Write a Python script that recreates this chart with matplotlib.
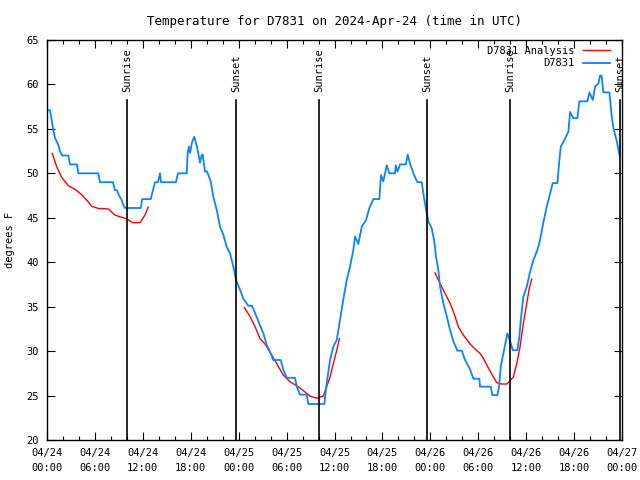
import matplotlib
matplotlib.use('Agg')
import matplotlib.pyplot as plt
from matplotlib.ticker import MultipleLocator

# hours since 2024-04-24 00:00 UTC
obs_hours = [0.13, 0.38, 0.79, 1.00, 1.42, 1.63, 1.92, 2.67, 2.88, 3.76, 3.92, 6.42, 6.64,
             8.26, 8.51, 8.77, 9.02, 9.35, 9.52, 9.77, 11.73, 11.93, 12.99, 13.27, 13.52,
             13.90, 14.15, 14.28, 16.15, 16.40, 17.49, 17.62, 17.78, 17.91, 18.16, 18.44,
             18.78, 19.16, 19.35, 19.50, 19.78, 20.04, 20.50, 20.82, 21.25, 21.66, 22.08,
             22.50, 22.92, 23.33, 23.67, 24.17, 24.58, 25.21, 25.67, 26.05, 26.67, 27.09,
             27.51, 27.92, 28.34, 29.26, 29.59, 30.02, 31.05, 31.27, 31.68, 32.52, 32.72,
             34.72, 35.02, 35.44, 35.85, 36.28, 36.69, 37.10, 37.53, 37.94, 38.36, 38.57,
             38.98, 39.41, 39.95, 40.36, 40.86, 41.61, 41.82, 42.11, 42.54, 42.86, 43.58,
             43.66, 43.89, 44.20, 44.92, 45.17, 45.45, 45.87, 46.37, 46.92, 47.12, 47.46,
             47.75, 48.17, 48.46, 48.71, 49.00, 49.21, 49.62, 50.05, 50.46, 50.88, 51.38,
             51.93, 52.34, 52.97, 53.38, 54.13, 54.22, 55.56, 55.76, 56.39, 56.60, 56.81,
             57.14, 57.64, 57.98, 58.32, 58.89, 59.14, 59.32, 59.64, 60.07, 60.48, 60.90,
             61.32, 61.52, 61.73, 62.15, 62.57, 62.99, 63.32, 63.90, 64.15, 64.33, 64.86,
             65.28, 65.49, 65.90, 66.40, 66.65, 67.66, 67.91, 68.33, 68.62, 69.03, 69.25,
             69.43, 69.66, 70.41, 70.71, 70.91, 71.34, 71.66]
obs_temp = [57.1, 57.1, 54.9, 54.0, 53.2, 52.5, 52.0, 52.0, 51.0, 51.0, 50.0, 50.0, 49.0,
            49.0, 48.1, 48.1, 47.5, 47.0, 46.5, 46.1, 46.1, 47.1, 47.1, 48.1, 49.0,
            49.0, 50.0, 49.0, 49.0, 50.0, 50.0, 52.3, 53.0, 52.3, 53.5, 54.1,
            53.0, 51.2, 52.0, 52.1, 50.2, 50.2, 49.1, 47.4, 45.9, 44.0, 43.1,
            41.7, 41.0, 39.5, 38.0, 36.9, 35.9, 35.1, 35.1, 34.3, 32.9, 32.0,
            30.7, 29.9, 29.0, 29.0, 27.9, 27.0, 27.0, 26.0, 25.1, 25.1, 24.05,
            24.05, 26.4, 29.0, 30.5, 31.25, 33.5, 35.8, 38.0, 39.5, 41.4, 42.9,
            42.05, 44.0, 44.75, 46.1, 47.1, 47.1, 49.8, 49.1, 50.9, 50.0, 50.0,
            50.9, 50.2, 51.0, 51.0, 52.1, 51.1, 50.0, 49.0, 49.0, 47.75, 45.9,
            44.6, 43.8, 42.5, 40.6, 39.1, 37.25, 35.4, 33.9, 32.4, 31.1, 30.05,
            30.05, 29.0, 27.95, 26.9, 26.9, 26.0, 26.0, 25.05, 25.05, 26.0, 28.25,
            29.75, 32.0, 31.1, 30.1, 30.1, 31.6, 33.5, 36.1, 37.25, 38.9, 40.25,
            41.2, 41.75, 42.5, 44.5, 46.25, 47.75, 48.9, 48.9, 51.5, 53.0, 53.9,
            54.7, 56.9, 56.2, 56.2, 58.1, 58.1, 59.1, 58.25, 59.75, 60.1, 61.0,
            61.0, 59.1, 59.1, 56.4, 55.1, 53.6, 52.1]

ana1_hours = [0.66, 1.21, 1.84, 2.67, 3.51, 4.35, 4.97, 5.60, 6.42, 7.68, 8.51, 9.35,
              9.98, 10.68, 11.65, 12.27, 12.68]
ana1_temp = [52.25, 50.75, 49.55, 48.6, 48.2, 47.6, 47.0, 46.3, 46.05, 46.0, 45.3, 45.05,
             44.9, 44.45, 44.45, 45.3, 46.2]
ana2_hours = [24.71, 25.42, 26.05, 26.67, 27.30, 27.92, 28.76, 29.59, 30.43, 31.27, 32.09,
              32.93, 33.77, 34.60, 35.02, 35.44, 35.85, 36.28, 36.61]
ana2_temp = [34.9, 33.9, 32.75, 31.4, 30.8, 29.9, 28.6, 27.3, 26.55, 26.1, 25.55,
             24.95, 24.7, 24.95, 26.0, 27.1, 28.6, 30.1, 31.4]
ana3_hours = [48.58, 49.21, 49.83, 50.46, 50.96, 51.50, 52.13, 52.97, 53.81, 54.22, 54.63,
              55.26, 55.76, 56.31, 56.94, 57.56, 57.98, 58.39, 58.82, 59.23, 59.64,
              60.07, 60.39, 60.69]
ana3_temp = [38.8, 37.6, 36.5, 35.4, 34.25, 32.75, 31.8, 30.8, 30.05, 29.75, 29.2,
             28.1, 27.3, 26.45, 26.3, 26.3, 26.65, 27.1, 28.6, 30.5, 33.1,
             35.4, 37.1, 38.1]

sun_hours = [10.02, 23.67, 34.06, 47.58, 57.98, 71.75]
sun_labels = ['Sunrise', 'Sunset', 'Sunrise', 'Sunset', 'Sunrise', 'Sunset']

tick_hours = list(range(0, 73, 6))
tick_labels = ['04/24\n00:00', '04/24\n06:00', '04/24\n12:00', '04/24\n18:00',
               '04/25\n00:00', '04/25\n06:00', '04/25\n12:00', '04/25\n18:00',
               '04/26\n00:00', '04/26\n06:00', '04/26\n12:00', '04/26\n18:00',
               '04/27\n00:00']

plt.rcParams['font.family'] = ['DejaVu Sans Mono']
plt.rcParams['font.size'] = 7.5

fig = plt.figure(figsize=(6.4, 4.8), dpi=100)
ax = fig.add_axes([0.0734, 0.0833, 0.8986, 0.8334])

red = '#ff0000'
blue = '#0a84ff'

ax.plot(ana1_hours, ana1_temp, color=red, lw=1.0, label='D7831 Analysis')
ax.plot(ana2_hours, ana2_temp, color=red, lw=1.0)
ax.plot(ana3_hours, ana3_temp, color=red, lw=1.0)
ax.plot(obs_hours, obs_temp, color=blue, lw=1.3, label='D7831')

for h, lab in zip(sun_hours, sun_labels):
    ax.plot([h, h], [20, 58.3], color='black', lw=1.2)
    ax.text(h, 59.1, lab, rotation=90, ha='center', va='bottom', fontsize=7.5)

ax.set_xlim(0, 72)
ax.set_ylim(20, 65)
ax.set_xticks(tick_hours)
ax.set_xticklabels(tick_labels, linespacing=1.6)
ax.xaxis.set_minor_locator(MultipleLocator(2))
ax.yaxis.set_major_locator(MultipleLocator(5))
ax.tick_params(which='both', direction='in', top=True, right=True, width=0.8)
ax.tick_params(which='major', length=6, pad=6)
ax.tick_params(which='minor', length=3)
for s in ax.spines.values():
    s.set_linewidth(1.0)

ax.set_ylabel('degrees F')
ax.yaxis.set_label_coords(-0.055, 0.5)
ax.set_title('Temperature for D7831 on 2024-Apr-24 (time in UTC)', pad=11)

ax.legend(loc='upper right', bbox_to_anchor=(0.991, 1.004), frameon=False,
          markerfirst=False, handlelength=2.6, borderaxespad=0.3,
          labelspacing=0.25, fontsize=7.5)

fig.savefig('out.png', dpi=100)
